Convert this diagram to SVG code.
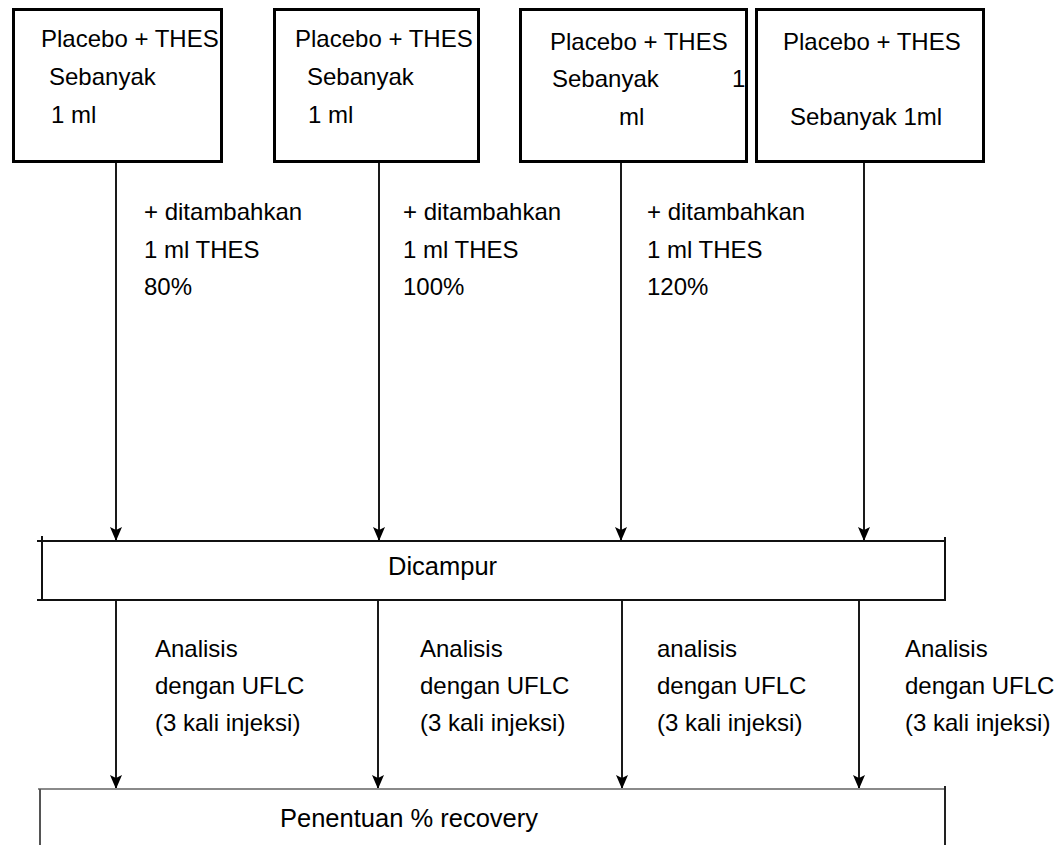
<svg xmlns="http://www.w3.org/2000/svg" width="1057" height="845" viewBox="0 0 1057 845">
  <style>
    .box { fill: #fff; stroke: #000; stroke-width: 3; }
    .bar { fill: none; stroke: #111; stroke-width: 2; }
    .t { font-family: "Liberation Sans", Arial, sans-serif; font-size: 24px; fill: #000; }
    .tb { font-family: "Liberation Sans", Arial, sans-serif; font-size: 25.5px; fill: #000; }
    .conn { stroke: #1a1a1a; stroke-width: 2; fill: none; marker-end: url(#head); }
  </style>
  <defs>
    <!-- arrowhead drawn along +x, tip at the line end -->
    <marker id="head" viewBox="0 0 14 12" refX="14" refY="6" markerWidth="14" markerHeight="12" markerUnits="userSpaceOnUse" orient="auto">
      <path d="M0,0 L3,6 L0,12 L14,6 Z" fill="#000"/>
    </marker>
  </defs>
  <rect width="1057" height="845" fill="#fff"/>

  <!-- connectors -->
  <g id="connectors">
    <line class="conn" x1="116" y1="163" x2="116" y2="541"/>
    <line class="conn" x1="379" y1="163" x2="379" y2="541"/>
    <line class="conn" x1="621" y1="163" x2="621" y2="541"/>
    <line class="conn" x1="864" y1="163" x2="864" y2="541"/>
    <line class="conn" x1="116" y1="600" x2="116" y2="789"/>
    <line class="conn" x1="378" y1="600" x2="378" y2="789"/>
    <line class="conn" x1="622" y1="600" x2="622" y2="789"/>
    <line class="conn" x1="859" y1="600" x2="859" y2="789"/>
  </g>

  <!-- source samples -->
  <g id="sample-80">
    <rect class="box" x="13.5" y="9.5" width="208" height="152"/>
    <text class="t" x="41" y="47">Placebo + THES</text>
    <text class="t" x="49" y="85">Sebanyak</text>
    <text class="t" x="51" y="123">1 ml</text>
  </g>
  <g id="sample-100">
    <rect class="box" x="274.5" y="9.5" width="204" height="152"/>
    <text class="t" x="295" y="47">Placebo + THES</text>
    <text class="t" x="307" y="85">Sebanyak</text>
    <text class="t" x="308" y="123">1 ml</text>
  </g>
  <g id="sample-120">
    <rect class="box" x="520.5" y="9.5" width="226" height="152"/>
    <text class="t" x="550" y="50">Placebo + THES</text>
    <text class="t" x="552" y="87">Sebanyak</text>
    <text class="t" x="732" y="87">1</text>
    <text class="t" x="619" y="125">ml</text>
  </g>
  <g id="sample-blank">
    <rect class="box" x="756.5" y="9.5" width="227" height="152"/>
    <text class="t" x="783" y="50">Placebo + THES</text>
    <text class="t" x="790" y="125">Sebanyak 1ml</text>
  </g>

  <!-- spike labels -->
  <g id="label-80">
    <text class="t" x="144" y="220">+ ditambahkan</text>
    <text class="t" x="144" y="258">1 ml THES</text>
    <text class="t" x="144" y="295">80%</text>
  </g>
  <g id="label-100">
    <text class="t" x="403" y="220">+ ditambahkan</text>
    <text class="t" x="403" y="258">1 ml THES</text>
    <text class="t" x="403" y="295">100%</text>
  </g>
  <g id="label-120">
    <text class="t" x="647" y="220">+ ditambahkan</text>
    <text class="t" x="647" y="258">1 ml THES</text>
    <text class="t" x="647" y="295">120%</text>
  </g>

  <!-- mixing step -->
  <g id="mix">
    <rect class="bar" x="42" y="541" width="903" height="59"/>
    <line class="bar" x1="37" y1="541" x2="42" y2="541"/>
    <line class="bar" x1="37" y1="600" x2="42" y2="600"/>
    <line class="bar" x1="42" y1="536" x2="42" y2="541"/>
    <line class="bar" x1="945" y1="537" x2="945" y2="541"/>
    <text class="tb" x="388" y="575">Dicampur</text>
  </g>

  <!-- analysis labels -->
  <g id="analysis-1">
    <text class="t" x="155" y="657">Analisis</text>
    <text class="t" x="155" y="694">dengan UFLC</text>
    <text class="t" x="155" y="731">(3 kali injeksi)</text>
  </g>
  <g id="analysis-2">
    <text class="t" x="420" y="657">Analisis</text>
    <text class="t" x="420" y="694">dengan UFLC</text>
    <text class="t" x="420" y="731">(3 kali injeksi)</text>
  </g>
  <g id="analysis-3">
    <text class="t" x="657" y="657">analisis</text>
    <text class="t" x="657" y="694">dengan UFLC</text>
    <text class="t" x="657" y="731">(3 kali injeksi)</text>
  </g>
  <g id="analysis-4">
    <text class="t" x="905" y="657">Analisis</text>
    <text class="t" x="905" y="694">dengan UFLC</text>
    <text class="t" x="905" y="731">(3 kali injeksi)</text>
  </g>

  <!-- recovery step -->
  <g id="recovery">
    <line x1="38" y1="789" x2="945" y2="789" stroke="#8a8a8a" stroke-width="2"/>
    <line x1="40" y1="789" x2="40" y2="845" stroke="#555" stroke-width="2"/>
    <line x1="945" y1="786" x2="945" y2="845" stroke="#222" stroke-width="2"/>
    <text class="tb" x="280" y="827">Penentuan % recovery</text>
  </g>
</svg>
